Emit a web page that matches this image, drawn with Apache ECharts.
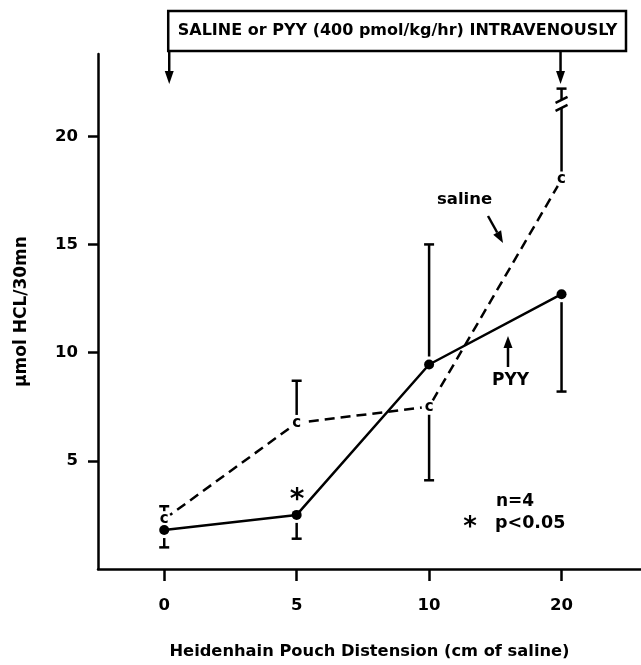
<!DOCTYPE html>
<html>
<head>
<meta charset="utf-8">
<script src="https://cdn.jsdelivr.net/npm/echarts@6/dist/echarts.min.js"></script>
<style>
html, body { margin: 0; padding: 0; background: #fff; }
#chart { width: 641px; height: 665px; }
</style>
</head>
<body>
<div id="chart"></div>
<script>
// data
const categories = ['0', '5', '10', '20'];
const yTicks = [5, 10, 15, 20];
const salineMean = [2.3, 6.75, 7.5, 18.0];
const salineErrEnd = [2.9, 8.7, 4.1, 22.2];
const pyyMean = [1.8, 2.5, 9.45, 12.7];
const pyyErrEnd = [1.0, 1.4, 15.0, 8.2];
const salineBreakAt = [[3, 21.5]];

const FONT = 'DejaVu Sans';
const LW = 2.5;

function errorBar(params, api) {
    const x = api.value(0);
    const p0 = api.coord([x, api.value(1)]);
    const p1 = api.coord([x, api.value(2)]);
    const dir = p1[1] > p0[1] ? 1 : -1;
    const start = p0[1] + dir * 8;
    const st = { stroke: '#000', lineWidth: LW };
    return {
        type: 'group',
        children: [
            { type: 'line', shape: { x1: p0[0], y1: start, x2: p1[0], y2: p1[1] }, style: st },
            { type: 'line', shape: { x1: p1[0] - 5, y1: p1[1], x2: p1[0] + 5, y2: p1[1] }, style: st }
        ]
    };
}

// the little "//" break on the saline bar at 20 cm
function breakMark(params, api) {
    const p = api.coord([api.value(0), api.value(1)]);
    const st = { stroke: '#000', lineWidth: LW };
    return {
        type: 'group',
        children: [
            { type: 'rect', shape: { x: p[0] - 3, y: p[1] - 4, width: 6, height: 8 }, style: { fill: '#fff' } },
            { type: 'line', shape: { x1: p[0] - 6, y1: p[1] - 1, x2: p[0] + 6, y2: p[1] - 7 }, style: st },
            { type: 'line', shape: { x1: p[0] - 6, y1: p[1] + 7, x2: p[0] + 6, y2: p[1] + 1 }, style: st }
        ]
    };
}

function arrow(x1, y1, x2, y2, head) {
    const a = Math.atan2(y2 - y1, x2 - x1);
    const h = head || 10, w = 4.5;
    const bx = x2 - h * Math.cos(a), by = y2 - h * Math.sin(a);
    return [
        { type: 'line', shape: { x1: x1, y1: y1, x2: bx, y2: by }, style: { stroke: '#000', lineWidth: LW } },
        { type: 'polygon', shape: { points: [
            [x2, y2],
            [bx + w * Math.sin(a), by - w * Math.cos(a)],
            [bx - w * Math.sin(a), by + w * Math.cos(a)]
        ] }, style: { fill: '#000' } }
    ];
}

function txt(x, y, s, size, align) {
    return { type: 'text', x: x, y: y, style: {
        text: s, fill: '#000', font: 'bold ' + size + 'px "' + FONT + '"',
        textAlign: align || 'left', textVerticalAlign: 'middle'
    } };
}

const chart = echarts.init(document.getElementById('chart'));

const option = {
    animation: false,
    backgroundColor: '#fff',
    textStyle: { fontFamily: FONT, fontWeight: 'bold', color: '#000' },
    grid: { left: 98, right: 0, top: 54, bottom: 94 },
    xAxis: {
        type: 'value', min: -0.5, max: 3.6,
        name: 'Heidenhain Pouch Distension (cm of saline)',
        nameLocation: 'middle', nameGap: 75,
        nameTextStyle: { fontSize: 16.3, fontWeight: 'bold', color: '#000', fontFamily: FONT },
        axisLine: { onZero: false, lineStyle: { color: '#000', width: LW } },
        axisTick: { show: true, inside: false, length: 12, lineStyle: { color: '#000', width: LW }, customValues: [0, 1, 2, 3] },
        axisLabel: { customValues: [0, 1, 2, 3], formatter: v => categories[v], margin: 28, fontSize: 16.5, fontWeight: 'bold', color: '#000', fontFamily: FONT },
        splitLine: { show: false }
    },
    yAxis: {
        type: 'value', min: 0, max: 23.8,
        name: 'µmol HCL/30mn',
        nameLocation: 'middle', nameGap: 68, nameRotate: 90,
        nameTextStyle: { fontSize: 17, fontWeight: 'bold', color: '#000', fontFamily: FONT },
        axisLine: { show: true, onZero: false, lineStyle: { color: '#000', width: LW } },
        axisTick: { show: true, inside: false, length: 10, lineStyle: { color: '#000', width: LW }, customValues: yTicks },
        axisLabel: { customValues: yTicks, margin: 20, fontSize: 16.5, fontWeight: 'bold', color: '#000', fontFamily: FONT },
        splitLine: { show: false }
    },
    series: [
        {
            type: 'custom', name: 'saline err', renderItem: errorBar, z: 2,
            data: salineMean.map((v, i) => [i, v, salineErrEnd[i]])
        },
        {
            type: 'custom', name: 'pyy err', renderItem: errorBar, z: 2,
            data: pyyMean.map((v, i) => [i, v, pyyErrEnd[i]])
        },
        {
            type: 'custom', name: 'break', renderItem: breakMark, z: 3,
            data: salineBreakAt
        },
        {
            type: 'line', name: 'saline', z: 4,
            data: salineMean.map((v, i) => [i, v]),
            lineStyle: { color: '#000', width: LW, type: [10, 6] },
            symbol: 'circle', symbolSize: 15,
            itemStyle: { color: '#fff', borderWidth: 0 },
            label: { show: true, position: 'inside', formatter: 'c', color: '#000', fontSize: 15, fontWeight: 'bold', fontFamily: FONT }
        },
        {
            type: 'line', name: 'PYY', z: 5,
            data: pyyMean.map((v, i) => [i, v]),
            lineStyle: { color: '#000', width: LW },
            symbol: 'circle', symbolSize: 10,
            itemStyle: { color: '#000' }
        }
    ]
};
chart.setOption(option);

// header box, arrows and notes
const xl = chart.convertToPixel({ xAxisIndex: 0 }, 0) + 5;
const xr = chart.convertToPixel({ xAxisIndex: 0 }, 3) - 1;
let g = [
    { type: 'rect', shape: { x: xl - 1, y: 11, width: 627 - xl, height: 40 }, style: { fill: '#fff', stroke: '#000', lineWidth: LW } },
    txt((xl + 626) / 2, 31, 'SALINE or PYY (400 pmol/kg/hr) INTRAVENOUSLY', 16, 'center'),
    txt(437, 200, 'saline', 16.5),
    txt(492, 381, 'PYY', 17),
    txt(496, 502, 'n=4', 17),
    txt(495, 523, 'p<0.05', 17.5),
    txt(470, 528, '*', 26, 'center'),
    txt(297, 501, '*', 28, 'center')
];
g = g.concat(arrow(xl, 51, xl, 84, 13));
g = g.concat(arrow(xr, 51, xr, 84, 13));
g = g.concat(arrow(488, 216, 503, 243, 12));
g = g.concat(arrow(508, 367, 508, 336, 12));
chart.setOption({ graphic: g });
</script>
</body>
</html>
